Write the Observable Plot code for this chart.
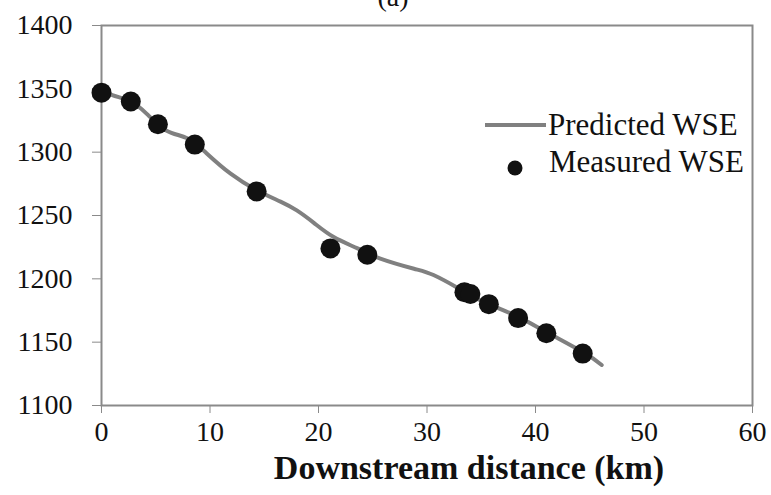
<!DOCTYPE html>
<html>
<head>
<meta charset="utf-8">
<script src="https://cdn.jsdelivr.net/npm/d3@7"></script>
<script src="https://cdn.jsdelivr.net/npm/@observablehq/plot@0.6"></script>
<style>
  body { margin: 0; background: #fff; }
  #wrap { position: relative; width: 771px; height: 495px; overflow: hidden; font-family: "Liberation Serif", "Times New Roman", serif; }
  .leg { position: absolute; font-size: 31px; color: #111; line-height: 1; white-space: nowrap; font-family: "Liberation Serif", serif; }
</style>
</head>
<body>
<div id="wrap"></div>
<script>
// Measured water-surface elevation (points)
const measuredX = [0, 2.7, 5.2, 8.6, 14.3, 21.1, 24.5, 33.45, 34.0, 35.7, 38.4, 41.0, 44.35];
const measuredY = [1347, 1340, 1322, 1306, 1269, 1224, 1219, 1189.5, 1188, 1180, 1169, 1157, 1141];
// Predicted water-surface elevation (line)
const predictedX = [0, 1, 2.7, 4.2, 6, 7.9, 9.7, 11.9, 14.3, 16.5, 18.0, 19.6, 21.4, 23.6, 25.7, 28.8, 30.6, 32.8, 34, 35.7, 38.4, 41, 44.4, 46.1];
const predictedY = [1350, 1345, 1340, 1330, 1317, 1311, 1299, 1283, 1270, 1261, 1254, 1244, 1233, 1224, 1216, 1208, 1203, 1193, 1187, 1180, 1170, 1158, 1142, 1132];
const xTicks = [0, 10, 20, 30, 40, 50, 60];
const yTicks = [1100, 1150, 1200, 1250, 1300, 1350, 1400];
const xTitle = "Downstream distance (km)";
const panelLabel = "(a)";
const seriesNames = ["Predicted WSE", "Measured WSE"];

const measured = measuredX.map((x, i) => ({x, y: measuredY[i]}));
const predicted = predictedX.map((x, i) => ({x, y: predictedY[i]}));

const chart = Plot.plot({
  width: 771,
  height: 495,
  marginLeft: 101,
  marginRight: 19,
  marginTop: 25,
  marginBottom: 90,
  style: {fontFamily: "'Liberation Serif', 'Times New Roman', serif", fontSize: "28px", background: "#fff", overflow: "visible"},
  x: {domain: [0, 60]},
  y: {domain: [1100, 1400]},
  marks: [
    Plot.axisX({ticks: xTicks, tickSize: 8, tickPadding: 8, fontSize: 28, stroke: "#8a8a8a", fill: "#111", tickFormat: "d", label: null}),
    Plot.axisY({ticks: yTicks, tickSize: 9, tickPadding: 20, fontSize: 28, stroke: "#8a8a8a", fill: "#111", tickFormat: "d", label: null}),
    Plot.frame({stroke: "#8a8a8a", strokeWidth: 2}),
    Plot.line(predicted, {x: "x", y: "y", stroke: "#808080", strokeWidth: 4, curve: "natural"}),
    Plot.dot(measured, {x: "x", y: "y", r: 10, fill: "#111", stroke: "none"}),
    Plot.text([xTitle], {frameAnchor: "bottom", dy: 73, dx: 42, fontSize: 34, fontWeight: "bold", fill: "#111"}),
    Plot.text([panelLabel], {frameAnchor: "top", dy: -39, dx: -34, fontSize: 28, fill: "#111"})
  ]
});
const wrap = document.getElementById("wrap");
wrap.appendChild(chart);

// Legend (inside plot area, upper right)
const leg = document.createElement("div");
leg.innerHTML = `
  <svg style="position:absolute;left:0;top:0" width="771" height="495">
    <line x1="485" x2="546" y1="125" y2="125" stroke="#808080" stroke-width="4"/>
    <circle cx="515" cy="168" r="7.5" fill="#111"/>
  </svg>
  <div class="leg" style="left:548px;top:109px">${seriesNames[0]}</div>
  <div class="leg" style="left:549px;top:146px">${seriesNames[1]}</div>`;
leg.style.position = "absolute"; leg.style.left = "0"; leg.style.top = "0";
wrap.appendChild(leg);
</script>
</body>
</html>
